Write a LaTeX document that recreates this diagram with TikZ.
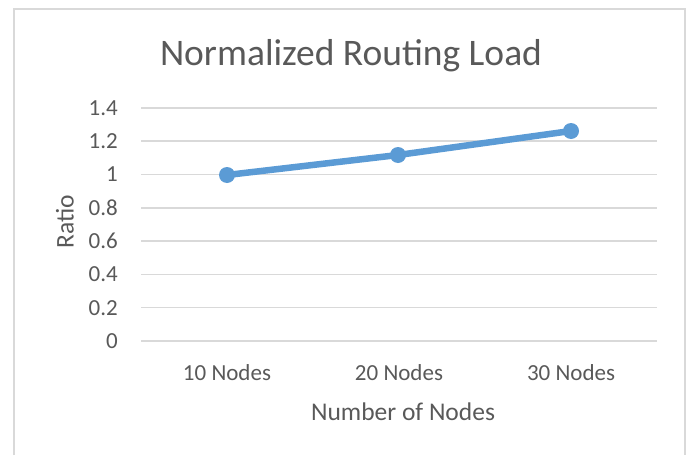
\documentclass[tikz,border=0pt]{standalone}
\usepackage{fontspec}
\setmainfont{Carlito}
\usetikzlibrary{positioning}

\definecolor{gridgray}{HTML}{D9D9D9}
\definecolor{textgray}{HTML}{595959}
\definecolor{lineblue}{HTML}{5B9BD5}

\tikzset{
  gridline/.style={gridgray, line width=1.5pt},
  ticklabel/.style={text=textgray, inner sep=0pt, anchor=east, font=\fontsize{23}{27}\selectfont},
  catlabel/.style={text=textgray, inner sep=0pt, font=\fontsize{23}{27}\selectfont},
  axistitle/.style={text=textgray, inner sep=0pt, font=\fontsize{25.5}{30}\selectfont},
  marker/.style={circle, fill=lineblue, minimum size=16pt, inner sep=0pt},
}

\begin{document}
\begin{tikzpicture}[x=1pt,y=-1pt]
\useasboundingbox (0,0) rectangle (690,455);
% chart frame
\draw[gridgray, line width=2pt] (14,455) -- (14,9) -- (685,9) -- (685,455);

\node[text=textgray, inner sep=0pt, font=\fontsize{37.5}{44}\selectfont](title) at (351,56) {Normalized Routing Load};

% value axis
\foreach \lab [count=\i from 0] in {0,0.2,0.4,0.6,0.8,1,1.2,1.4} {
  \pgfmathsetmacro\yy{341-33.3*\i}
  \draw[gridline] (141,\yy) -- (657,\yy);
  \node[ticklabel](tick\i) at (118,\yy) {\lab};
}

\node[catlabel](cat1) at (227,373) {10 Nodes};
\node[catlabel](cat2) at (399,373) {20 Nodes};
\node[catlabel](cat3) at (571,373) {30 Nodes};

\node[axistitle](xtitle) at (403,412) {Number of Nodes};
\node[axistitle, rotate=90](ytitle) at (65,222) {Ratio};

% data series
\node[marker](p1) at (227,175) {};
\node[marker](p2) at (398,155) {};
\node[marker](p3) at (571,131) {};
\draw[lineblue, line width=6.5pt, line cap=round, line join=round] (p1.center) -- (p2.center) -- (p3.center);
\end{tikzpicture}
\end{document}
